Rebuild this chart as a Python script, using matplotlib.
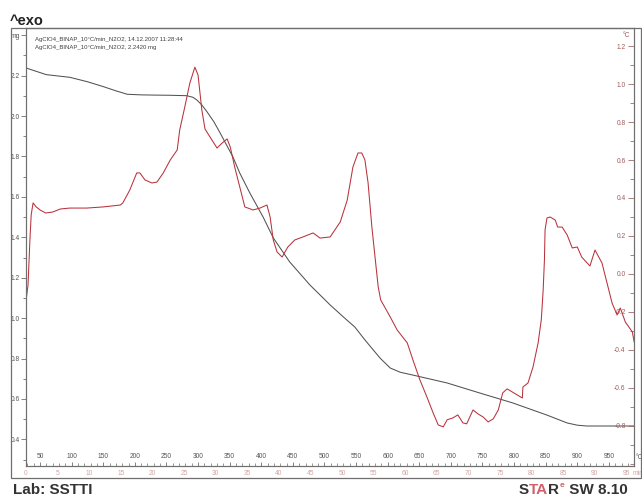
import matplotlib
matplotlib.use("Agg")
import matplotlib.pyplot as plt
from matplotlib.patches import Rectangle
from matplotlib.ticker import MultipleLocator, FixedLocator

plt.rcParams['font.family'] = ['Liberation Sans', 'DejaVu Sans']

# TGA: sample mass (mg) against furnace temperature (°C)
tga_temp = [28, 60, 97, 125, 150, 170, 188, 210, 229, 255, 282, 292, 298, 306, 314,
            325, 335, 355, 366, 382, 403, 419, 445, 477, 509, 532, 548, 564, 588,
            604, 620, 640, 694, 746, 798, 852, 884, 900, 915, 956, 990]
tga_mass = [2.238, 2.205, 2.192, 2.170, 2.146, 2.125, 2.108, 2.105, 2.104, 2.103, 2.101,
            2.093, 2.080, 2.055, 2.022, 1.972, 1.916, 1.799, 1.718, 1.619, 1.500,
            1.397, 1.278, 1.164, 1.065, 1.000, 0.956, 0.892, 0.802, 0.753, 0.732,
            0.718, 0.679, 0.629, 0.580, 0.520, 0.481, 0.470, 0.466, 0.466, 0.466]

# DSC signal (right-hand scale) against temperature (°C)
dsc_temp = [28, 31, 34, 36, 39, 44, 50, 59, 70, 82, 97, 124, 150, 177, 181, 192,
            203, 208, 216, 227, 235, 245, 256, 267, 271, 279, 287, 295, 300, 306,
            311, 319, 330, 338, 346, 351, 358, 366, 374, 387, 398, 409, 414, 419,
            425, 433, 442, 453, 466, 482, 493, 509, 525, 536, 545, 553, 559, 564,
            569, 575, 580, 585, 589, 604, 615, 631, 640, 651, 662, 672, 680, 688,
            694, 703, 711, 719, 725, 735, 743, 751, 759, 767, 775, 782, 789, 797,
            805, 813, 814, 822, 830, 838, 843, 846, 848, 849, 852, 857, 865, 869,
            876, 884, 892, 900, 907, 920, 928, 939, 947, 955, 963, 968, 976, 987, 990]
dsc_signal = [-0.137, -0.058, 0.179, 0.311, 0.374, 0.353, 0.337, 0.321, 0.326, 0.342,
              0.347, 0.347, 0.353, 0.363, 0.374, 0.442, 0.532, 0.532, 0.495, 0.479,
              0.484, 0.532, 0.600, 0.653, 0.758, 0.879, 1.005, 1.089, 1.047, 0.863,
              0.763, 0.721, 0.663, 0.689, 0.711, 0.668, 0.563, 0.458, 0.353, 0.337,
              0.347, 0.363, 0.300, 0.179, 0.116, 0.089, 0.142, 0.179, 0.195, 0.216,
              0.189, 0.195, 0.274, 0.389, 0.563, 0.637, 0.637, 0.600, 0.479, 0.247,
              0.089, -0.068, -0.137, -0.226, -0.295, -0.363, -0.453, -0.558, -0.647,
              -0.732, -0.795, -0.805, -0.768, -0.758, -0.742, -0.784, -0.789, -0.716,
              -0.737, -0.753, -0.779, -0.763, -0.716, -0.626, -0.605, -0.621, -0.637,
              -0.653, -0.595, -0.574, -0.489, -0.363, -0.242, -0.084, 0.074, 0.232,
              0.295, 0.300, 0.284, 0.247, 0.247, 0.205, 0.137, 0.142, 0.089, 0.042,
              0.126, 0.058, -0.047, -0.153, -0.216, -0.179, -0.253, -0.305, -0.358]

temp_ticks = list(range(50, 1000, 50))
time_ticks = list(range(0, 100, 5))
mass_ticks = [0.4, 0.6, 0.8, 1.0, 1.2, 1.4, 1.6, 1.8, 2.0, 2.2, 2.4]
mass_labels = ['0.4', '0.6', '0.8', '1.0', '1.2', '1.4', '1.6', '1.8', '2.0', '2.2', 'mg']
dsc_ticks = [-0.8, -0.6, -0.4, -0.2, 0.0, 0.2, 0.4, 0.6, 0.8, 1.0, 1.2]
start_temp = 27.8
heating_rate = 10.0

W, H = 642, 497
fig = plt.figure(figsize=(W / 100, H / 100), dpi=100)

def fx(px):
    return px / W

def fy(py):
    return 1 - py / H

ax = fig.add_axes([fx(26), fy(466), fx(634) - fx(26), fy(28) - fy(466)])
ax2 = ax.twinx()

frame_col = '#6f6f6f'
red = '#b8323c'

ax.plot(tga_temp, tga_mass, color='#525252', lw=0.75)
ax2.plot(dsc_temp, dsc_signal, color=red, lw=0.75)

ax.set_xlim(start_temp, 989.7)
ax.set_ylim(0.268, 2.436)
ax2.set_ylim(-1.011, 1.295)

for sp in ax.spines.values():
    sp.set_color(frame_col)
    sp.set_linewidth(0.8)
for sp in ax2.spines.values():
    sp.set_color(frame_col)
    sp.set_linewidth(0.8)

# left mass scale
ax.yaxis.set_major_locator(FixedLocator(mass_ticks))
ax.set_yticklabels(mass_labels)
ax.yaxis.set_minor_locator(MultipleLocator(0.1))
ax.tick_params(axis='y', which='major', direction='out', length=3.5, width=0.6,
               color=frame_col, labelsize=4.8, labelcolor='#555555', pad=1)
ax.tick_params(axis='y', which='minor', direction='out', length=2.5, width=0.6,
               color=frame_col)

# right DSC scale, labels inside the frame
ax2.yaxis.set_major_locator(FixedLocator(dsc_ticks))
ax2.set_yticklabels([f'{v:.1f}' for v in dsc_ticks])
ax2.yaxis.set_minor_locator(MultipleLocator(0.1))
ax2.tick_params(axis='y', which='major', direction='in', length=4, width=0.6,
                color='#9a6a6a', labelsize=4.8, labelcolor='#a05a5a', pad=-6)
ax2.tick_params(axis='y', which='minor', direction='in', length=3, width=0.6,
                color='#9a6a6a')
for lbl in ax2.get_yticklabels():
    lbl.set_horizontalalignment('right')

# temperature scale along the bottom line, labels above it
ax.xaxis.set_major_locator(FixedLocator(temp_ticks))
ax.set_xticklabels([str(t) for t in temp_ticks])
ax.xaxis.set_minor_locator(MultipleLocator(10))
ax.tick_params(axis='x', which='major', direction='in', length=3, width=0.6,
               color=frame_col, labelsize=4.8, labelcolor='#555555', pad=-4)
ax.tick_params(axis='x', which='minor', direction='in', length=2, width=0.5,
               color=frame_col)
for lbl in ax.get_xticklabels():
    lbl.set_verticalalignment('bottom')

ax.text(1.002, 0.012, '°C', transform=ax.transAxes, fontsize=4.8,
        color='#555555', ha='left', va='bottom', clip_on=False)

# elapsed time (min) under the temperature scale
for t in time_ticks:
    ax.text(start_temp + heating_rate * t, -0.018, str(t),
            transform=ax.get_xaxis_transform(), fontsize=4.8, color='#d2a5a5',
            ha='center', va='center', clip_on=False)
ax.text(start_temp + heating_rate * 95 + 9, -0.018, 'min',
        transform=ax.get_xaxis_transform(), fontsize=4.8, color='#d2a5a5',
        ha='left', va='center', clip_on=False)

ax2.text(0.993, 0.99, '°C', transform=ax2.transAxes, fontsize=4.8,
         color='#a05a5a', ha='right', va='top')

# outer frame of the plot page
fig.add_artist(Rectangle((fx(11), fy(478)), fx(641) - fx(11), fy(28) - fy(478),
                         transform=fig.transFigure, fill=False,
                         edgecolor=frame_col, lw=0.9))

# curve identification
fig.text(fx(35), fy(40), 'AgClO4_BINAP_10°C/min_N2O2, 14.12.2007 11:28:44',
         fontsize=4.3, color='#404040', ha='left', va='center')
fig.text(fx(35), fy(47), 'AgClO4_BINAP_10°C/min_N2O2, 2.2420 mg',
         fontsize=4.3, color='#404040', ha='left', va='center')

fig.text(fx(10), fy(25), '^exo', fontsize=10.5, fontweight='bold',
         color='#222222', ha='left', va='baseline')
fig.text(fx(13), fy(494), 'Lab: SSTTI', fontsize=11, fontweight='bold',
         color='#333333', ha='left', va='baseline')

# STARe logo line
dark = '#333333'
logo_red = '#d0606a'
s1 = fig.text(fx(519), fy(494), 'S', fontsize=11, fontweight='bold',
              color=dark, ha='left', va='baseline')
s2 = ax.annotate('TA', xy=(1, 0), xycoords=s1, fontsize=11, fontweight='bold',
                 color=logo_red, ha='left', va='bottom', annotation_clip=False)
s3 = ax.annotate('R', xy=(1, 0), xycoords=s2, fontsize=11, fontweight='bold',
                 color=dark, ha='left', va='bottom', annotation_clip=False)
s4 = ax.annotate('e', xy=(1.0, 0.55), xycoords=s3, fontsize=6, fontweight='bold',
                 color=logo_red, ha='left', va='bottom', annotation_clip=False)
s5 = ax.annotate(' SW 8.10', xy=(1, 0), xycoords=s3, xytext=(4, 0),
                 textcoords='offset points', fontsize=11, fontweight='bold',
                 color=dark, ha='left', va='bottom', annotation_clip=False)

fig.savefig('out.png', dpi=100)
